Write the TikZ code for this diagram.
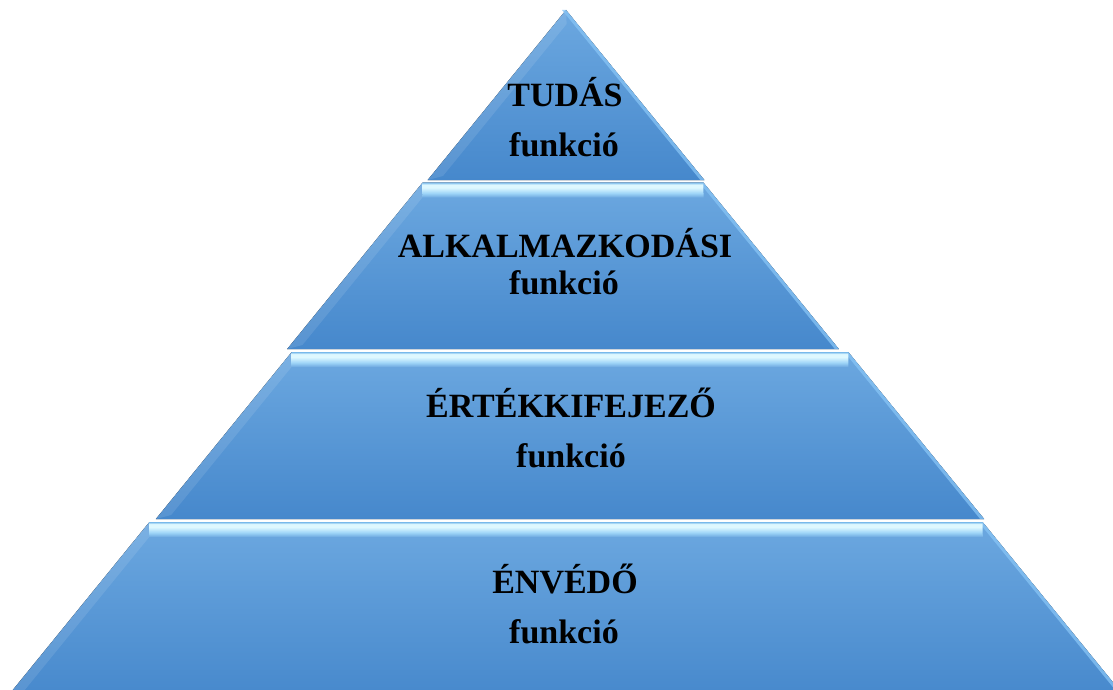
\documentclass[tikz,border=0pt]{standalone}
\usepackage{fontspec}
\setmainfont{Liberation Serif}
\definecolor{tiertop}{RGB}{108,168,224}
\definecolor{tierbot}{RGB}{70,136,204}
\definecolor{stripedge}{RGB}{120,185,235}
\definecolor{stripbright}{RGB}{222,248,255}
\definecolor{stripmid}{RGB}{160,214,248}
\definecolor{stripbase}{RGB}{108,168,224}
\definecolor{rimlight}{RGB}{135,196,245}
% bevel strip along the top of a tier (bottom of the strip at 25bp, top at 75bp)
\pgfdeclareverticalshading{bevelstrip}{100bp}{%
  color(0bp)=(stripbase); color(25bp)=(stripbase); color(40bp)=(stripmid);
  color(58bp)=(stripbright); color(68bp)=(stripbright); color(75bp)=(stripedge);
  color(100bp)=(stripedge)}
\tikzset{
  declare function={xl(\y)=566-0.8136*(\y-10); xr(\y)=566+0.8136*(\y-10);},
  tierfill/.style={top color=tiertop, bottom color=tierbot},
  lbl/.style={font=\fontsize{34}{36}\selectfont\bfseries, text=black, anchor=base, inner sep=0pt},
}
% one pyramid layer from y=#1 to y=#2; #3 = 1 adds the top bevel strip; #4 = sideways offset
\newcommand\pyrlayer[4]{%
  \begin{scope}[xshift=#4pt]
  \fill[tierfill] ({xl(#1)},#1) -- ({xr(#1)},#1) -- ({xr(#2)},#2) -- ({xl(#2)},#2) -- cycle;
  % lighter left bevel
  \fill[white, opacity=0.10] ({xl(#1)},#1) -- ({xl(#1+14)+12},#1+14) -- ({xl(#2-4)+12},#2-4) -- ({xl(#2)},#2) -- cycle;
  % light rim on the right edge
  \fill[rimlight, opacity=0.75] ({xr(#1)},#1) -- ({xr(#2)},#2) -- ({xr(#2)-4},#2) -- ({xr(#1)-4},#1) -- cycle;
  \ifnum#3=1
    \shade[shading=bevelstrip] ({xl(#1)},#1) -- ({xr(#1)},#1) -- ({xr(#1+15)-12},#1+15) -- ({xl(#1+15)+12},#1+15) -- cycle;
  \fi
  \end{scope}
}
\begin{document}
\begin{tikzpicture}[x=1pt,y=-1pt]
\useasboundingbox (0,0) rectangle (1113,690);
\clip (0,0) rectangle (1113,690);
\pyrlayer{10}{180}{0}{0}
\pyrlayer{182.5}{349}{1}{-3}
\pyrlayer{352}{519}{1}{4}
\pyrlayer{522}{700}{1}{0}
% labels
\node[lbl] (tudas) at (565,107) {TUDÁS};
\node[lbl] (tudasf) at (564,157) {funkció};
\node[lbl] (alk) at (565,257) {ALKALMAZKODÁSI};
\node[lbl] (alkf) at (564,294) {funkció};
\node[lbl] (ert) at (571,417) {ÉRTÉKKIFEJEZŐ};
\node[lbl] (ertf) at (571,467) {funkció};
\node[lbl] (env) at (565,593) {ÉNVÉDŐ};
\node[lbl] (envf) at (564,643) {funkció};
\end{tikzpicture}
\end{document}
